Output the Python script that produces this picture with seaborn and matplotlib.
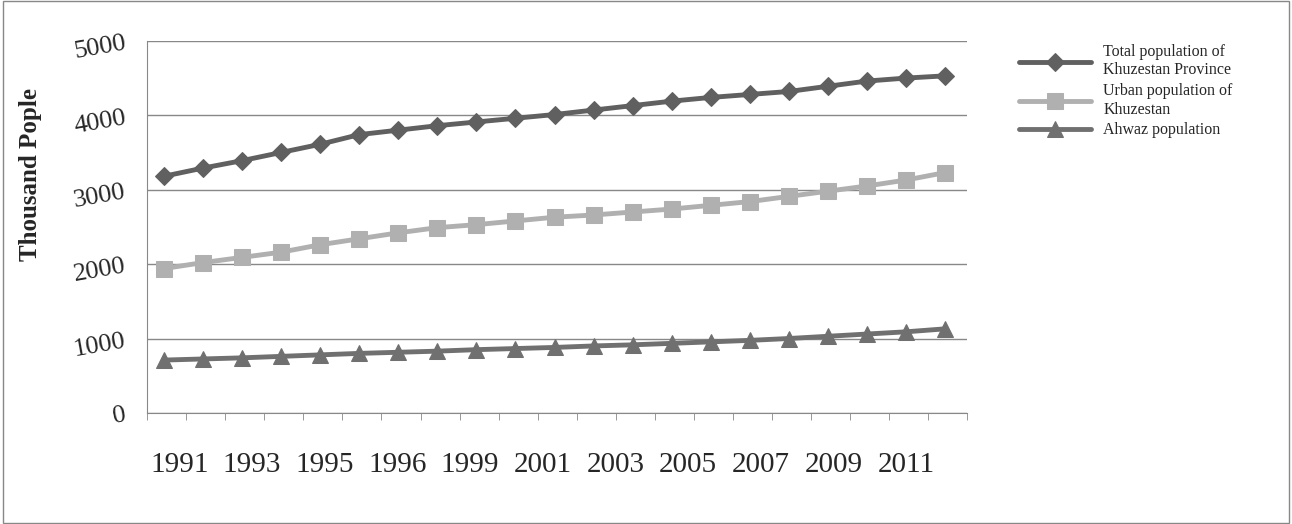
import matplotlib
matplotlib.use("Agg")
import matplotlib.pyplot as plt
import seaborn as sns
import pandas as pd
import numpy as np

tick_labels = ["1991", "1993", "1995", "1996", "1999", "2001", "2003", "2005", "2007", "2009", "2011"]
total = [3180, 3290, 3390, 3500, 3610, 3740, 3800, 3860, 3910, 3960, 4010, 4070, 4130, 4190, 4240, 4280, 4320, 4390, 4460, 4500, 4530]
urban = [1940, 2020, 2090, 2160, 2260, 2340, 2420, 2490, 2530, 2580, 2630, 2660, 2700, 2740, 2790, 2840, 2910, 2980, 3050, 3130, 3230]
ahwaz = [710, 725, 740, 760, 780, 800, 815, 830, 850, 865, 880, 900, 915, 935, 955, 975, 1000, 1030, 1060, 1090, 1130]
names = ["Total population of\nKhuzestan Province", "Urban population of\nKhuzestan", "Ahwaz population"]

n = len(total)
df = pd.DataFrame({"x": list(range(n)) * 3,
                   "v": total + urban + ahwaz,
                   "s": [names[0]] * n + [names[1]] * n + [names[2]] * n})

sns.set_style("white")
plt.rcParams['font.family'] = ['Liberation Serif', 'DejaVu Serif']
fig = plt.figure(figsize=(12.92, 5.24), dpi=100)
ax = fig.add_axes([0.1138, 0.212, 0.635, 0.71])
palette = ["#606060", "#b0b0b0", "#707070"]
markers = ["D", "s", "^"]
for name, c, m in zip(names, palette, markers):
    d = df[df.s == name]
    sns.lineplot(data=d, x="x", y="v", color=c, marker=m, markersize=11 if m != "D" else 9,
                 markeredgecolor=c, linewidth=3.5, ax=ax, label=name)
ax.set_xlim(-0.43, n - 0.57)
ax.set_ylim(0, 5000)
ax.set_yticks(range(0, 5001, 1000))
ax.set_yticklabels([str(v) for v in range(0, 5001, 1000)], fontsize=19, rotation=10)
ax.tick_params(axis='y', length=0, pad=14)
ax.set_xticks(np.linspace(0.4, 19.0, len(tick_labels)))
ax.set_xticklabels(tick_labels, fontsize=21)
ax.tick_params(axis='x', which='major', length=0, pad=28)
ax.set_xticks(np.arange(-0.43, n, 1.0), minor=True)
ax.tick_params(axis='x', which='minor', length=5, color="#888888", direction="out", bottom=True)
ax.yaxis.grid(True, color="#888888", linewidth=1)
ax.set_xlabel("")
ax.set_ylabel("Thousand Pople", fontsize=18, fontweight="bold")
ax.yaxis.set_label_coords(-0.128, 0.64)
for s in ["top", "right"]:
    ax.spines[s].set_visible(False)
for s in ["left", "bottom"]:
    ax.spines[s].set_color("#888888")
ax.legend(loc="upper left", bbox_to_anchor=(1.045, 1.03), frameon=False, fontsize=11.5,
          handlelength=4.5, labelspacing=0.3)
fig.patches.append(plt.Rectangle((0.002, 0.002), 0.996, 0.996, transform=fig.transFigure,
                                 fill=False, edgecolor="#888888", linewidth=1))
fig.savefig("out.png", dpi=100)
